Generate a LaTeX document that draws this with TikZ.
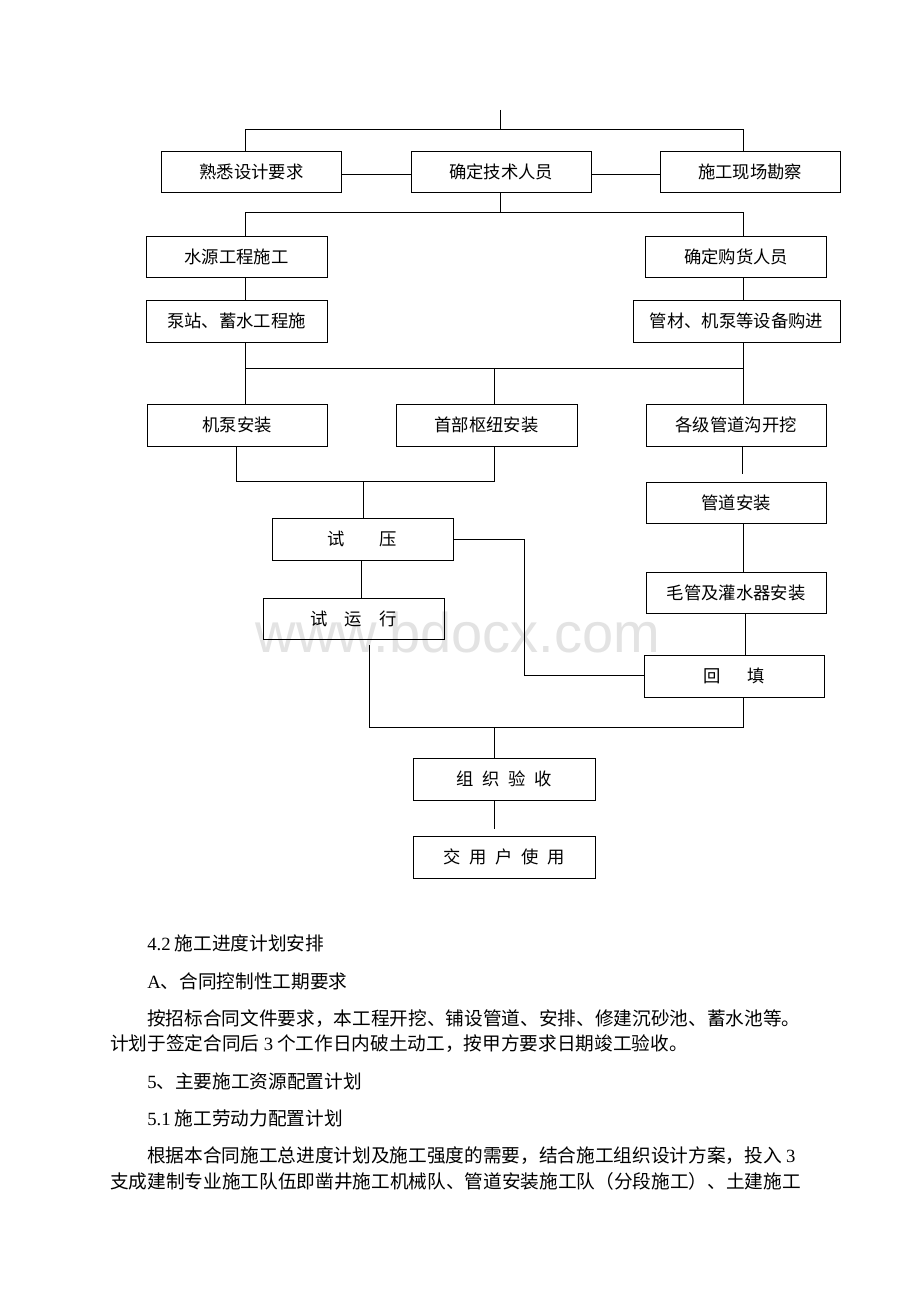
\documentclass[tikz,border=0pt]{standalone}
\usepackage{fontspec}
\newfontfamily\cjk{Noto Sans CJK SC}
\newfontfamily\lat{Liberation Serif}
\newfontfamily\wmk{Liberation Sans}
\tikzset{
  box/.style={draw, line width=0.7pt, inner sep=0pt, font=\cjk\fontsize{13}{15}\selectfont},
  sz/.style 2 args={minimum width=#1*0.75pt, minimum height=#2*0.75pt},
  ln/.style={line width=0.7pt},
  para/.style={anchor=west, inner sep=0pt, font=\cjk\fontsize{14}{16}\selectfont}
}
\begin{document}
\begin{tikzpicture}[x=0.75pt, y=-0.75pt]
\useasboundingbox (0,0) rectangle (920,1302);
\fill[white] (0,0) rectangle (920,1302);
% watermark
\node[inner sep=0pt, text=black!11, font=\wmk\fontsize{42}{46}\selectfont] (wm) at (458,632) {www.bdocx.com};

% boxes
\node[box, sz={180}{41}] (t1) at (251.5,171.5) {熟悉设计要求};
\node[box, sz={180}{41}] (t2) at (501,171.5) {确定技术人员};
\node[box, sz={180}{41}] (t3) at (750,171.5) {施工现场勘察};
\node[box, sz={181}{41}] (s1) at (236.5,256.5) {水源工程施工};
\node[box, sz={181}{41}] (s2) at (736,256.5) {确定购货人员};
\node[box, sz={181}{42}] (p1) at (236.5,321) {泵站、蓄水工程施};
\node[box, sz={207}{42}] (p2) at (736.5,321) {管材、机泵等设备购进};
\node[box, sz={180}{42}] (m1) at (237,425) {机泵安装};
\node[box, sz={181}{42}] (m2) at (486.5,425) {首部枢纽安装};
\node[box, sz={180}{42}] (m3) at (736,425) {各级管道沟开挖};
\node[box, sz={180}{41}] (gd) at (736,502.5) {管道安装};
\node[box, sz={180}{41}] (mg) at (736,592.5) {毛管及灌水器安装};
\node[box, sz={181}{42}] (ty) at (362.5,539) {试\hspace{2em}压};
\node[box, sz={181}{41}] (yx) at (353.5,618.5) {试\hspace{1em}运\hspace{1em}行};
\node[box, sz={180}{42}] (hf) at (734,676) {回\hspace{1.5em}填};
\node[box, sz={182}{42}] (zz) at (504,779) {组\hspace{0.5em}织\hspace{0.5em}验\hspace{0.5em}收};
\node[box, sz={182}{42}] (jy) at (504,857) {交\hspace{0.5em}用\hspace{0.5em}户\hspace{0.5em}使\hspace{0.5em}用};

% connectors
\coordinate (top) at (500,110);
\draw[ln] (top) -- (500,129);
\draw[ln] (t1.north -| 245,0) -- (245,129) -- (743,129) -- (t3.north -| 743,0);
\draw[ln] (t1.east |- 0,174) -- (t2.west |- 0,174);
\draw[ln] (t2.east |- 0,174) -- (t3.west |- 0,174);
\draw[ln] (t2.south -| 500,0) -- (500,212);
\draw[ln] (s1.north -| 245,0) -- (245,212) -- (743,212) -- (s2.north -| 743,0);
\draw[ln] (s1.south -| 245,0) -- (p1.north -| 245,0);
\draw[ln] (s2.south -| 743,0) -- (p2.north -| 743,0);
\draw[ln] (p1.south -| 245,0) -- (245,368) -- (743,368) -- (p2.south -| 743,0);
\draw[ln] (245,368) -- (m1.north -| 245,0);
\draw[ln] (494,368) -- (m2.north -| 494,0);
\draw[ln] (743,368) -- (m3.north -| 743,0);
\draw[ln] (m1.south -| 236,0) -- (236,481) -- (494,481) -- (m2.south -| 494,0);
\draw[ln] (363,481) -- (ty.north -| 363,0);
\draw[ln] (ty.south -| 361,0) -- (yx.north -| 361,0);
\draw[ln] (ty.east |- 0,539) -- (524,539) -- (524,675) -- (hf.west |- 0,675);
\coordinate (g1) at (742,474);
\draw[ln] (m3.south -| 742,0) -- (g1);
\draw[ln] (gd.south -| 743,0) -- (mg.north -| 743,0);
\draw[ln] (mg.south -| 745,0) -- (hf.north -| 745,0);
\coordinate (g2) at (369,645);
\draw[ln] (g2) -- (369,727) -- (743,727) -- (hf.south -| 743,0);
\draw[ln] (494,727) -- (zz.north -| 494,0);
\coordinate (g3) at (494,829);
\draw[ln] (zz.south -| 494,0) -- (g3);

% body text
\node[para] (l1) at (147,943) {{\lat 4.2} 施工进度计划安排};
\node[para] (l2) at (147,981) {{\lat A}、合同控制性工期要求};
\node[para] (l3) at (147,1019) {按招标合同文件要求，本工程开挖、铺设管道、安排、修建沉砂池、蓄水池等。};
\node[para] (l4) at (110,1044) {计划于签定合同后 {\lat 3} 个工作日内破土动工，按甲方要求日期竣工验收。};
\node[para] (l5) at (147,1081) {{\lat 5}、主要施工资源配置计划};
\node[para] (l6) at (147,1118) {{\lat 5.1} 施工劳动力配置计划};
\node[para] (l7) at (147,1156) {根据本合同施工总进度计划及施工强度的需要，结合施工组织设计方案，投入 {\lat 3}};
\node[para] (l8) at (110,1181) {支成建制专业施工队伍即凿井施工机械队、管道安装施工队（分段施工）、土建施工};
\end{tikzpicture}
\end{document}
